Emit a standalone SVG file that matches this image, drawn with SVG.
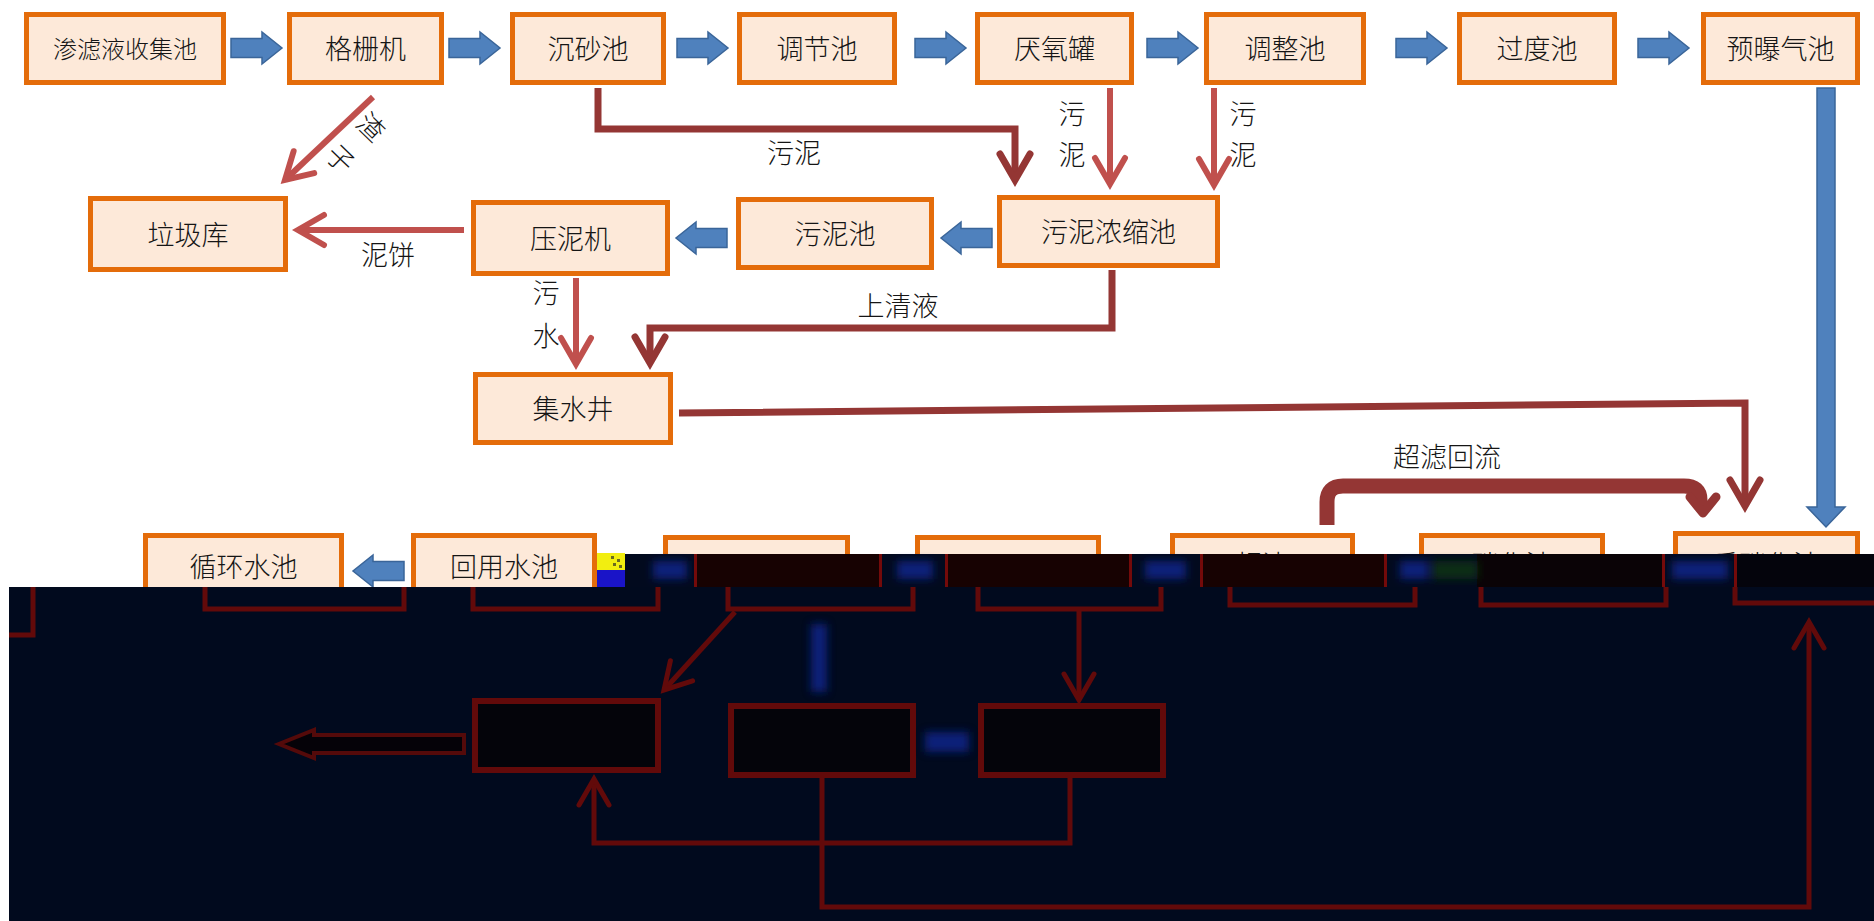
<svg xmlns="http://www.w3.org/2000/svg" width="1874" height="921" viewBox="0 0 1874 921">
<style>
.box{fill:#FDE9D9;stroke:#E46C0A;stroke-width:5}
.t{font-family:"Noto Sans CJK SC","Noto Sans CJK JP",sans-serif;font-size:27px;font-weight:300;fill:#151515;text-anchor:middle}
.sm{font-size:24px}
.ba{fill:#4F81BD;stroke:#3A6599;stroke-width:1.5}
.r{fill:none;stroke:#C0504D;stroke-width:6}
.m{fill:none;stroke:#943634;stroke-width:7}
.g{fill:none;stroke:#620A0A;stroke-width:5}
.gbox{fill:#04040A;stroke:#620A0A;stroke-width:6}
.nv{fill:#020A1E}
.mr{fill:#170202}
.rl{fill:#740A0A}
.bb{fill:#0B2A9A;opacity:0.75}
</style>
<defs>
<path id="blk" d="M0,-9.5H31V-16L51,0L31,16V9.5H0Z"/>
<marker id="mR" markerUnits="userSpaceOnUse" viewBox="-34 -22 40 44" markerWidth="40" markerHeight="44" refX="0" refY="0" orient="auto" overflow="visible"><path d="M-26,-15L0,0L-26,15" fill="none" stroke="#C0504D" stroke-width="6" stroke-linecap="round"/></marker>
<marker id="mM" markerUnits="userSpaceOnUse" viewBox="-34 -22 40 44" markerWidth="40" markerHeight="44" refX="0" refY="0" orient="auto" overflow="visible"><path d="M-26,-15L0,0L-26,15" fill="none" stroke="#943634" stroke-width="7" stroke-linecap="round"/></marker>
<marker id="mG" markerUnits="userSpaceOnUse" viewBox="-34 -22 40 44" markerWidth="40" markerHeight="44" refX="0" refY="0" orient="auto" overflow="visible"><path d="M-26,-15L0,0L-26,15" fill="none" stroke="#620A0A" stroke-width="5" stroke-linecap="round"/></marker>
<filter id="blur" x="-50%" y="-50%" width="200%" height="200%"><feGaussianBlur stdDeviation="4"/></filter>
</defs>
<rect width="1874" height="921" fill="#ffffff"/>

<g id="nodes">
<g id="n1"><rect class="box" x="26.5" y="14.5" width="197" height="68"/><text class="t sm" x="125" y="57.5">渗滤液收集池</text></g>
<g id="n2"><rect class="box" x="289.5" y="14.5" width="152" height="68"/><text class="t" x="365.5" y="58.5">格栅机</text></g>
<g id="n3"><rect class="box" x="512.5" y="14.5" width="151" height="68"/><text class="t" x="588" y="58.5">沉砂池</text></g>
<g id="n4"><rect class="box" x="739.5" y="14.5" width="155" height="68"/><text class="t" x="817" y="58.5">调节池</text></g>
<g id="n5"><rect class="box" x="977.5" y="14.5" width="154" height="68"/><text class="t" x="1054.5" y="58.5">厌氧罐</text></g>
<g id="n6"><rect class="box" x="1206.5" y="14.5" width="157" height="68"/><text class="t" x="1285" y="58.5">调整池</text></g>
<g id="n7"><rect class="box" x="1459.5" y="14.5" width="155" height="68"/><text class="t" x="1537" y="58.5">过度池</text></g>
<g id="n8"><rect class="box" x="1703.5" y="14.5" width="154" height="68"/><text class="t" x="1780.5" y="58.5">预曝气池</text></g>

<g id="n9"><rect class="box" x="90.5" y="198.5" width="195" height="71"/><text class="t" x="188" y="244.5">垃圾库</text></g>
<g id="n10"><rect class="box" x="473.5" y="202.5" width="194" height="71"/><text class="t" x="570.5" y="248.5">压泥机</text></g>
<g id="n11"><rect class="box" x="738.5" y="199.5" width="193" height="68"/><text class="t" x="835" y="244">污泥池</text></g>
<g id="n12"><rect class="box" x="999.5" y="197.5" width="218" height="68"/><text class="t" x="1108.5" y="242">污泥浓缩池</text></g>

<g id="n13"><rect class="box" x="475.5" y="374.5" width="195" height="68"/><text class="t" x="573" y="419">集水井</text></g>

<g id="n14"><rect class="box" x="145.5" y="535.5" width="196" height="70"/><text class="t" x="243.5" y="577">循环水池</text></g>
<g id="n15"><rect class="box" x="413.5" y="535.5" width="181" height="70"/><text class="t" x="504" y="577">回用水池</text></g>
<g id="n16"><rect class="box" x="665.5" y="537.5" width="182" height="70"/></g>
<g id="n17"><rect class="box" x="917.5" y="537.5" width="181" height="70"/></g>
<g id="n18"><rect class="box" x="1172.5" y="535.5" width="180" height="70"/><text class="t" x="1262" y="575">超滤</text></g>
<g id="n19"><rect class="box" x="1421.5" y="535.5" width="181" height="70"/><text class="t" x="1512" y="575">硝化池</text></g>
<g id="n20"><rect class="box" x="1675.5" y="533.5" width="182" height="70"/><text class="t" x="1766" y="575">反硝化池</text></g>
</g>

<g id="connectors">
<use href="#blk" class="ba" transform="translate(231,48)"/>
<use href="#blk" class="ba" transform="translate(449,48)"/>
<use href="#blk" class="ba" transform="translate(677,48)"/>
<use href="#blk" class="ba" transform="translate(915,48)"/>
<use href="#blk" class="ba" transform="translate(1147,48)"/>
<use href="#blk" class="ba" transform="translate(1396,48)"/>
<use href="#blk" class="ba" transform="translate(1638,48)"/>
<use href="#blk" class="ba" transform="translate(992,238) scale(-1,1)"/>
<use href="#blk" class="ba" transform="translate(727,238) scale(-1,1)"/>
<use href="#blk" class="ba" transform="translate(404,571) scale(-1,1)"/>
<path class="ba" d="M1817,88V507H1807L1826,527L1845,507H1835V88Z"/>

<path class="r" d="M373,97L285,180" marker-end="url(#mR)"/>
<path class="r" d="M464,230H298" marker-end="url(#mR)"/>
<path class="r" d="M1110,88V184" marker-end="url(#mR)"/>
<path class="r" d="M1214,88V185" marker-end="url(#mR)"/>
<path class="r" d="M576,278V364" marker-end="url(#mR)"/>

<path class="m" d="M598,88V129H1015V180" marker-end="url(#mM)"/>
<path class="m" d="M1112,270V328H650V363" marker-end="url(#mM)"/>
<path class="m" d="M679,413L1745,403V506" marker-end="url(#mM)"/>
<path d="M1327,525V502Q1327,486 1343,486H1684Q1700,486 1700,500V506" fill="none" stroke="#943634" stroke-width="15"/>
<path d="M1690,497L1703,513L1716,497" fill="none" stroke="#943634" stroke-width="9" stroke-linecap="round" stroke-linejoin="round"/>

<text class="t" x="794" y="163">污泥</text>
<text class="t" x="1072" y="124">污</text>
<text class="t" x="1072" y="165">泥</text>
<text class="t" x="1243" y="124">污</text>
<text class="t" x="1243" y="165">泥</text>
<text class="t" x="388" y="265">泥饼</text>
<text class="t" x="546" y="303">污</text>
<text class="t" x="546" y="346">水</text>
<text class="t" x="898" y="316">上清液</text>
<text class="t" x="1447" y="467">超滤回流</text>
<g transform="translate(371,127) rotate(44)"><text class="t" x="0" y="10">渣</text><text class="t" x="0" y="54">子</text></g>
</g>

<g id="overlay">
<rect x="597" y="553" width="28" height="17" fill="#F2EE10"/>
<rect x="611" y="556" width="3" height="3" fill="#6a6a20"/><rect x="617" y="559" width="3" height="3" fill="#6a6a20"/><rect x="613" y="563" width="3" height="3" fill="#6a6a20"/><rect x="619" y="565" width="3" height="3" fill="#6a6a20"/>
<rect x="597" y="570" width="28" height="17" fill="#1A14C8"/>
<rect class="nv" x="625" y="554" width="70" height="33"/>
<rect class="mr" x="695" y="554" width="185" height="33"/>
<rect class="nv" x="880" y="554" width="66" height="33"/>
<rect class="mr" x="946" y="554" width="184" height="33"/>
<rect class="nv" x="1130" y="554" width="71" height="33"/>
<rect class="mr" x="1201" y="554" width="184" height="33"/>
<rect class="nv" x="1385" y="554" width="92" height="33"/>
<rect x="1477" y="554" width="186" height="33" fill="#0A0306"/>
<rect class="nv" x="1663" y="554" width="72" height="33"/>
<rect x="1735" y="554" width="139" height="33" fill="#04040C"/>
<g filter="url(#blur)">
<rect class="bb" x="653" y="561" width="34" height="18"/>
<rect class="bb" x="897" y="561" width="36" height="18"/>
<rect class="bb" x="1145" y="561" width="41" height="18"/>
<rect class="bb" x="1400" y="561" width="28" height="18"/>
<rect x="1432" y="561" width="46" height="18" fill="#0A3A14" opacity="0.7"/>
<rect class="bb" x="1672" y="561" width="56" height="18"/>
</g>
<rect class="rl" x="694" y="554" width="3" height="33"/>
<rect class="rl" x="879" y="554" width="3" height="33"/>
<rect class="rl" x="945" y="554" width="3" height="33"/>
<rect class="rl" x="1129" y="554" width="3" height="33"/>
<rect class="rl" x="1200" y="554" width="3" height="33"/>
<rect class="rl" x="1384" y="554" width="3" height="33"/>
<rect class="rl" x="1662" y="554" width="3" height="33"/>
<rect class="rl" x="1734" y="554" width="3" height="33"/>

<rect x="9" y="587" width="1865" height="334" fill="#010A1E"/>
<path class="g" d="M33,587V635H9"/>
<path class="g" d="M205,587V609H404V587"/>
<path class="g" d="M473,587V609H658V587"/>
<path class="g" d="M728,587V609H913V587"/>
<path class="g" d="M978,587V609H1161V587"/>
<path class="g" d="M1230,587V605H1415V587"/>
<path class="g" d="M1481,587V605H1666V587"/>
<path class="g" d="M1735,587V603H1874"/>
<rect class="gbox" x="475" y="701" width="183" height="69"/>
<rect class="gbox" x="731" y="706" width="182" height="69"/>
<rect class="gbox" x="981" y="706" width="182" height="69"/>
<path class="g" d="M735,612L664,690" marker-end="url(#mG)"/>
<path class="g" d="M1079,610V700" marker-end="url(#mG)"/>
<path class="g" d="M822,778V907H1809V622" marker-end="url(#mG)"/>
<path class="g" d="M1070,778V843H594V779" marker-end="url(#mG)"/>
<path d="M464,735H314V730L279,744L314,758V753H464Z" fill="#050208" stroke="#540A0A" stroke-width="4"/>
<g filter="url(#blur)">
<rect class="bb" x="811" y="624" width="16" height="68" opacity="0.6"/>
<rect class="bb" x="925" y="732" width="44" height="20"/>
</g>
</g>
</svg>
